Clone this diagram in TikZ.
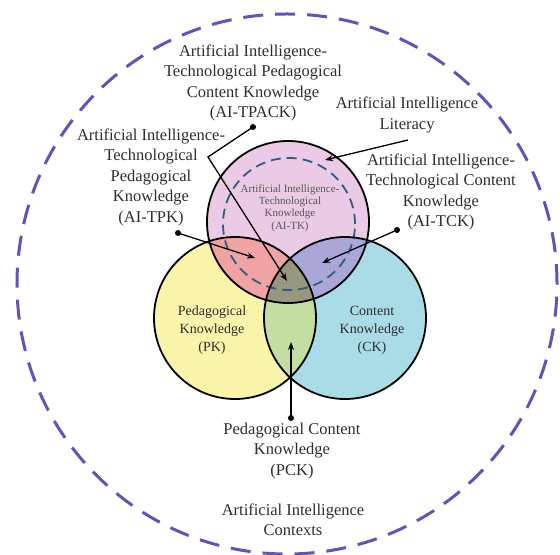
\documentclass[tikz,border=0pt]{standalone}
\usepackage{fontspec}
\setmainfont{Liberation Serif}
\usetikzlibrary{
  arrows.meta,
  positioning,
}
\definecolor{tkpink}{RGB}{234,202,228}
\definecolor{pkyellow}{RGB}{249,244,170}
\definecolor{ckcyan}{RGB}{170,220,232}
\definecolor{tpkred}{RGB}{240,163,162}
\definecolor{tckpurple}{RGB}{170,166,216}
\definecolor{pckgreen}{RGB}{196,221,160}
\definecolor{tpackgrey}{RGB}{152,150,126}
\definecolor{contextblue}{RGB}{94,84,186}
\definecolor{literacyblue}{RGB}{48,92,130}
\definecolor{termgrey}{RGB}{45,45,45}
\tikzstyle{venn} = [
  circle,
  minimum size=162bp,
  inner sep=0pt,
]
\tikzstyle{term} = [
  align=center,
  inner sep=0pt,
  text=termgrey,
  font=\fontsize{16.5bp}{20.5bp}\selectfont,
]
\tikzstyle{dot} = [
  circle,
  fill=black,
  minimum size=6bp,
  inner sep=0pt,
]
\tikzstyle{pointer} = [
  -{Stealth[length=8bp,width=6bp]},
  line width=1.3bp,
  black,
]
\begin{document}
\begin{tikzpicture}[x=1bp,y=-1bp]
    \useasboundingbox (0,0) rectangle (560,555);

    % context ring
    \node[circle,draw=contextblue,line width=3bp,dash pattern=on 20bp off 12bp,minimum size=540bp,inner sep=0pt] (ctx) at (287,284) {};

    % the three knowledge circles
    \node[venn,fill=tkpink]   (tk) at (288,222) {};
    \node[venn,fill=pkyellow] (pk) at (235,318) {};
    \node[venn,fill=ckcyan]   (ck) at (345,318) {};

    \begin{scope}
        \clip (tk.center) circle[radius=81];
        \fill[tpkred] (pk.center) circle[radius=81];
        \fill[tckpurple] (ck.center) circle[radius=81];
    \end{scope}
    \begin{scope}
        \clip (pk.center) circle[radius=81];
        \fill[pckgreen] (ck.center) circle[radius=81];
        \clip (ck.center) circle[radius=81];
        \fill[tpackgrey] (tk.center) circle[radius=81];
    \end{scope}

    \node[circle,draw=literacyblue,line width=1.8bp,dash pattern=on 10bp off 6bp,minimum size=132bp,inner sep=0pt] (lit) at (289,224) {};

    \foreach \c in {tk,pk,ck}
        \draw[line width=1.8bp] (\c.center) circle[radius=81];

    % texts
    \node[term] (tpack) at (253,83) {Artificial Intelligence-\\Technological Pedagogical\\Content Knowledge\\(AI-TPACK)};
    \node[term] (tpk) at (151,177) {Artificial Intelligence-\\Technological\\Pedagogical\\Knowledge\\(AI-TPK)};
    \node[term] (littext) at (407,115) {Artificial Intelligence\\Literacy};
    \node[term] (tck) at (441,192) {Artificial Intelligence-\\Technological Content\\Knowledge\\(AI-TCK)};
    \node[term,font=\fontsize{11bp}{12.3bp}\selectfont,text=termgrey!80] (tktext) at (290,208) {Artificial Intelligence-\\Technological\\Knowledge\\(AI-TK)};
    \node[term,font=\fontsize{14bp}{18bp}\selectfont] (pktext) at (212,330) {Pedagogical\\Knowledge\\(PK)};
    \node[term,font=\fontsize{14bp}{18bp}\selectfont] (cktext) at (372,330) {Content\\Knowledge\\(CK)};
    \node[term] (pck) at (292,451) {Pedagogical Content\\Knowledge\\(PCK)};
    \node[term] (ctxtext) at (293,520) {Artificial Intelligence\\Contexts};

    % pointers
    \node[dot] (tpackdot) at (253,127) {};
    \node[dot] (tpkdot) at (178,233) {};
    \node[dot] (tckdot) at (397,230) {};
    \node[dot] (pckdot) at (291,418) {};
    \coordinate (tpackbend) at (208,157);
    \coordinate (tpacktip) at (287,281);
    \coordinate (tpktip) at (255,258);
    \coordinate (tcktip) at (322,263);
    \coordinate (pcktip) at (291,342);
    \coordinate (litstart) at (408,140);
    \coordinate (littip) at (325,160);

    \draw[pointer] (tpackdot.center) -- (tpackbend) -- (tpacktip);
    \draw[pointer] (tpkdot.center) -- (tpktip);
    \draw[pointer] (tckdot.center) -- (tcktip);
    \draw[pointer] (pckdot.center) -- (pcktip);
    \draw[pointer] (litstart) -- (littip);
\end{tikzpicture}
\end{document}
